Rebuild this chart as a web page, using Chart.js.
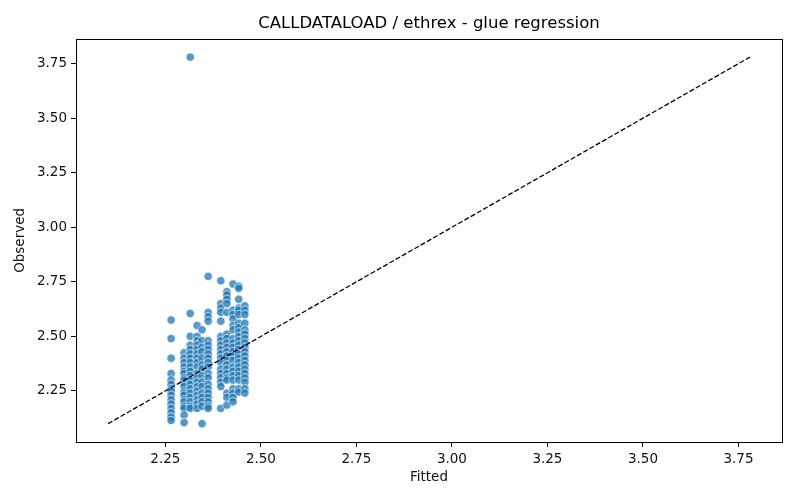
<!DOCTYPE html>
<html lang="en">
<head>
    <meta charset="UTF-8">
    <title>CALLDATALOAD / ethrex - glue regression</title>
    <script src="https://cdn.jsdelivr.net/npm/chart.js"></script>
    <style>
        body { margin: 0; background: #fff; }
    </style>
</head>
<body>
    <canvas id="glueChart" width="800" height="500"></canvas>

    <script>
        // fitted value of each column of points, and the observed values read in that column
        const fitted = [2.265, 2.299, 2.315, 2.333, 2.346, 2.362, 2.395, 2.411, 2.427, 2.442, 2.458];
        const observed = [
            [2.575, 2.49, 2.40, 2.33, 2.30, 2.28, 2.26, 2.25, 2.23, 2.21, 2.19, 2.17, 2.15, 2.13, 2.115],
            [2.425, 2.40, 2.38, 2.36, 2.34, 2.33, 2.31, 2.30, 2.28, 2.27, 2.25, 2.24, 2.23, 2.21, 2.20, 2.18, 2.17, 2.14, 2.105],
            [3.78, 2.605, 2.50, 2.46, 2.44, 2.42, 2.40, 2.38, 2.36, 2.34, 2.32, 2.30, 2.28, 2.26, 2.24, 2.22, 2.20, 2.18, 2.17],
            [2.55, 2.50, 2.48, 2.46, 2.44, 2.42, 2.40, 2.38, 2.36, 2.33, 2.31, 2.29, 2.27, 2.25, 2.23, 2.21, 2.19, 2.17],
            [2.53, 2.48, 2.45, 2.43, 2.40, 2.37, 2.35, 2.32, 2.29, 2.27, 2.24, 2.22, 2.20, 2.18, 2.10],
            [2.775, 2.61, 2.59, 2.57, 2.48, 2.46, 2.44, 2.42, 2.40, 2.38, 2.36, 2.33, 2.31, 2.28, 2.26, 2.24, 2.22, 2.20, 2.18, 2.17],
            [2.755, 2.65, 2.63, 2.61, 2.57, 2.50, 2.48, 2.46, 2.44, 2.42, 2.40, 2.38, 2.35, 2.33, 2.31, 2.29, 2.27, 2.17],
            [2.705, 2.69, 2.67, 2.65, 2.61, 2.51, 2.49, 2.47, 2.45, 2.43, 2.41, 2.39, 2.37, 2.35, 2.33, 2.31, 2.30, 2.24, 2.22, 2.185],
            [2.74, 2.62, 2.60, 2.58, 2.55, 2.53, 2.49, 2.47, 2.45, 2.43, 2.41, 2.39, 2.36, 2.34, 2.32, 2.30, 2.26, 2.24, 2.22, 2.20],
            [2.73, 2.72, 2.67, 2.63, 2.62, 2.60, 2.56, 2.54, 2.52, 2.50, 2.48, 2.46, 2.44, 2.42, 2.40, 2.38, 2.36, 2.34, 2.32, 2.30, 2.26, 2.245],
            [2.64, 2.62, 2.60, 2.56, 2.53, 2.51, 2.49, 2.47, 2.45, 2.43, 2.41, 2.39, 2.37, 2.35, 2.33, 2.31, 2.29, 2.26, 2.24]
        ];
        const identityLine = [2.1, 3.78];
        const xTicks = [2.25, 2.50, 2.75, 3.00, 3.25, 3.50, 3.75];
        const yTicks = [2.25, 2.50, 2.75, 3.00, 3.25, 3.50, 3.75];

        let points = [];
        fitted.forEach((fx, i) => {
            observed[i].forEach(oy => points.push({ x: fx, y: oy }));
        });

        const fontFamily = "'DejaVu Sans', sans-serif";

        // matplotlib-style box round the plot area
        const frame = {
            id: "frame",
            afterDraw(chart) {
                const { ctx, chartArea: a } = chart;
                ctx.save();
                ctx.strokeStyle = "#000";
                ctx.lineWidth = 1;
                ctx.strokeRect(Math.round(a.left) + 0.5, Math.round(a.top) + 0.5,
                    Math.round(a.right - a.left), Math.round(a.bottom - a.top));
                ctx.restore();
            }
        };

        function axis(ticks, title, size, padTitle) {
            return {
                type: "linear",
                min: 2.016,
                max: 3.864,
                afterBuildTicks: scale => { scale.ticks = ticks.map(v => ({ value: v })); },
                afterFit: size,
                grid: { drawOnChartArea: false, drawTicks: true, tickLength: 5, color: "#000" },
                border: { display: false },
                ticks: {
                    color: "#111",
                    padding: 4,
                    font: { family: fontFamily, size: 13.5 },
                    callback: v => Number(v).toFixed(2)
                },
                title: {
                    display: true,
                    text: title,
                    color: "#111",
                    font: { family: fontFamily, size: 13.5 },
                    padding: padTitle
                }
            };
        }

        new Chart(document.getElementById("glueChart"), {
            type: "scatter",
            data: {
                datasets: [
                    {
                        label: "y = x",
                        data: identityLine.map(v => ({ x: v, y: v })),
                        showLine: true,
                        pointRadius: 0,
                        borderColor: "#000",
                        borderWidth: 1.3,
                        borderDash: [5, 2.2],
                        order: 0
                    },
                    {
                        label: "CALLDATALOAD",
                        data: points,
                        pointRadius: 4.2,
                        backgroundColor: "rgba(31,119,180,0.75)",
                        borderColor: "rgba(255,255,255,0.8)",
                        borderWidth: 0.8,
                        order: 1
                    }
                ]
            },
            options: {
                responsive: false,
                animation: false,
                layout: { padding: { left: 0, right: 18, top: 0, bottom: 0 } },
                plugins: {
                    legend: { display: false },
                    tooltip: { enabled: false },
                    title: {
                        display: true,
                        fullSize: false,
                        text: "CALLDATALOAD / ethrex - glue regression",
                        color: "#000",
                        font: { family: fontFamily, size: 16.5, weight: "normal" },
                        padding: { top: 14, bottom: 5 }
                    }
                },
                scales: {
                    x: axis(xTicks, "Fitted", s => { s.height = 58; }, { top: 0, bottom: 14 }),
                    y: axis(yTicks, "Observed", s => { s.width = 76; }, { top: 12, bottom: 0 })
                }
            },
            plugins: [frame]
        });
    </script>
</body>
</html>
